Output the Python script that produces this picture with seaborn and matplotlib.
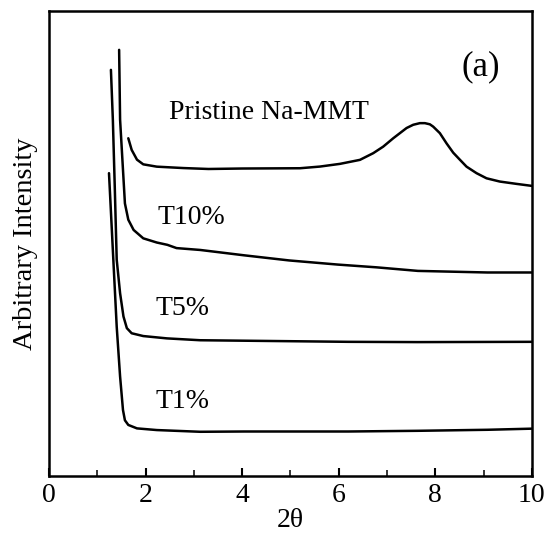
import matplotlib
matplotlib.use("Agg")
import matplotlib.pyplot as plt
import seaborn as sns
import pandas as pd
from matplotlib.ticker import MultipleLocator, NullLocator

# ---- data (intensity in arbitrary units, 0..1 of plot height) ----
pristine_x = [1.64, 1.71, 1.82, 1.95, 2.23, 2.78, 3.3, 4.0, 5.197, 5.611, 6.025, 6.439, 6.715, 6.921,
              7.129, 7.267, 7.405, 7.543, 7.681, 7.785, 7.888, 7.957, 8.095, 8.234, 8.372, 8.509,
              8.648, 8.855, 9.062, 9.337, 9.683, 10.0]
pristine_y = [0.726, 0.701, 0.680, 0.670, 0.665, 0.662, 0.660, 0.661, 0.6616, 0.6652, 0.671, 0.6796, 0.694, 0.708,
              0.726, 0.737, 0.748, 0.755, 0.7585, 0.7585, 0.756, 0.751, 0.737, 0.715, 0.695, 0.680,
              0.665, 0.651, 0.640, 0.633, 0.628, 0.6237]

t10_x = [1.45, 1.47, 1.53, 1.57, 1.64, 1.75, 1.95, 2.23, 2.45, 2.64, 3.13, 4.04, 4.97, 5.98, 6.78, 7.64, 9.08, 10.0]
t10_y = [0.916, 0.766, 0.658, 0.586, 0.551, 0.529, 0.511, 0.502, 0.497, 0.490, 0.486, 0.4745, 0.4635, 0.4546, 0.4487, 0.441, 0.4376, 0.4376]

t5_x = [1.28, 1.32, 1.36, 1.40, 1.47, 1.54, 1.61, 1.71, 1.95, 2.44, 3.13, 4.04, 6.2, 7.64, 10.0]
t5_y = [0.873, 0.766, 0.620, 0.465, 0.393, 0.343, 0.318, 0.307, 0.301, 0.296, 0.292, 0.291, 0.2886, 0.288, 0.2886]

t1_x = [1.24, 1.33, 1.40, 1.47, 1.53, 1.57, 1.64, 1.82, 2.23, 3.13, 4.04, 6.2, 7.64, 9.08, 10.0]
t1_y = [0.651, 0.465, 0.321, 0.214, 0.142, 0.120, 0.110, 0.1026, 0.099, 0.0953, 0.0959, 0.0959, 0.0974, 0.0996, 0.102]

series_names = ["Pristine Na-MMT", "T10%", "T5%", "T1%"]
label_pos_x = [2.49, 2.24, 2.2, 2.2]
label_pos_y = [0.781, 0.556, 0.36, 0.161]
x_ticks = [0, 2, 4, 6, 8, 10]

frames = []
for name, xs, ys in zip(series_names,
                        [pristine_x, t10_x, t5_x, t1_x],
                        [pristine_y, t10_y, t5_y, t1_y]):
    frames.append(pd.DataFrame({"two_theta": xs, "intensity": ys, "sample": name}))
df = pd.concat(frames, ignore_index=True)

sns.set_theme(style="ticks")
plt.rcParams["font.family"] = ["Liberation Serif", "DejaVu Serif"]

fig = plt.figure(figsize=(5.46, 5.38), dpi=100)
ax = fig.add_axes([0.090, 0.115, 0.884, 0.865])

sns.lineplot(data=df, x="two_theta", y="intensity", units="sample", estimator=None,
             color="black", linewidth=1.8, sort=False, ax=ax, legend=False)

for name, lx, ly in zip(series_names, label_pos_x, label_pos_y):
    ax.text(lx, ly, name, fontsize=20, ha="left", va="center", color="black")
ax.text(8.54, 0.880, "(a)", fontsize=25, ha="left", va="center", color="black")

ax.set_xlim(0, 10)
ax.set_ylim(0, 1)
ax.set_xticks(x_ticks)
ax.set_xticklabels([str(t) for t in x_ticks])
ax.xaxis.set_minor_locator(MultipleLocator(1))
ax.yaxis.set_major_locator(NullLocator())
ax.tick_params(axis="x", which="major", direction="in", length=6, width=1.5,
               labelsize=20, pad=5, colors="black")
ax.tick_params(axis="x", which="minor", direction="in", length=4, width=1.3)
ax.set_xlabel("2θ", fontsize=20, labelpad=0, color="black")
ax.set_ylabel("Arbitrary Intensity", fontsize=20.5, labelpad=8, color="black")
for sp in ax.spines.values():
    sp.set_visible(True)
    sp.set_linewidth(1.8)
    sp.set_color("black")

fig.savefig("out.png", dpi=100)
